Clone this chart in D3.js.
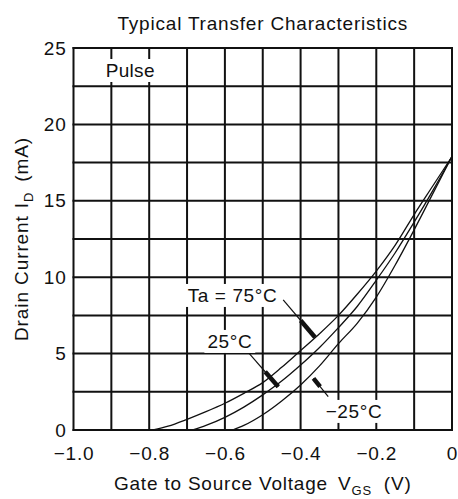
<!DOCTYPE html>
<html>
<head>
<meta charset="utf-8">
<script src="https://cdn.jsdelivr.net/npm/d3@7"></script>
<style>
  body { margin: 0; background: #fff; }
  text { font-family: "Liberation Sans", Arial, sans-serif; fill: #111; }
</style>
</head>
<body>
<div id="plot"></div>
<script>
// Data
// =================================
var vgs75 = [-0.79, -0.75, -0.70, -0.65, -0.60, -0.55, -0.50, -0.45, -0.40, -0.35, -0.30, -0.25, -0.20, -0.15, -0.10, -0.05, 0];
var id75 = [0, 0.25, 0.7, 1.2, 1.75, 2.4, 3.1, 4.1, 5.2, 6.3, 7.5, 8.9, 10.4, 12.1, 14.1, 16.0, 17.9];

var vgs25 = [-0.685, -0.65, -0.60, -0.55, -0.50, -0.45, -0.40, -0.35, -0.30, -0.25, -0.20, -0.15, -0.10, -0.05, 0];
var id25 = [0, 0.3, 0.83, 1.5, 2.3, 3.2, 4.25, 5.4, 6.7, 8.1, 9.8, 11.6, 13.6, 15.7, 17.9];

var vgsM25 = [-0.58, -0.55, -0.50, -0.45, -0.40, -0.35, -0.30, -0.25, -0.20, -0.15, -0.10, -0.05, 0];
var idM25 = [0, 0.3, 1.0, 1.9, 2.95, 4.2, 5.65, 7.0, 8.7, 10.8, 13.1, 15.5, 17.9];

var xTickValues = [-1.0, -0.8, -0.6, -0.4, -0.2, 0];
var xTickLabels = ["\u22121.0", "\u22120.8", "\u22120.6", "\u22120.4", "\u22120.2", "0"];
var yTickValues = [0, 5, 10, 15, 20, 25];
var yTickLabels = ["0", "5", "10", "15", "20", "25"];

var xGrid = [-1.0, -0.9, -0.8, -0.7, -0.6, -0.5, -0.4, -0.3, -0.2, -0.1, 0];
var yGrid = [0, 2.5, 5, 7.5, 10, 12.5, 15, 17.5, 20, 22.5, 25];

// curve labels (data units) and their leader lines
var curveLabels = ["Ta = 75\u00b0C", "25\u00b0C", "\u221225\u00b0C"];
var labelX = [-0.58, -0.587, -0.259];
var labelY = [8.38, 5.37, 0.79];
var leaderFrom = [[-0.446, 8.51], [-0.536, 5.02], [-0.327, 2.18]];
var leaderTo = [[-0.362, 6.07], [-0.459, 2.83], [-0.366, 3.38]];

/* Step 1
 * workspace
 */
// =================================
var svgWidth = 458;
var svgHeight = 499;

var margin = { top: 48, right: 6, bottom: 69, left: 73.5 };
var width = svgWidth - margin.left - margin.right;
var height = svgHeight - margin.top - margin.bottom;

var svg = d3.select("#plot")
    .append("svg")
    .attr("width", svgWidth)
    .attr("height", svgHeight);

var chartGroup = svg.append("g")
    .attr("transform", `translate(${margin.left}, ${margin.top})`);

/* Step 2
 * scales and axes
 */
// =================================
var xScale = d3.scaleLinear().domain([-1, 0]).range([0, width]);
var yScale = d3.scaleLinear().domain([0, 25]).range([height, 0]);

// grid (the outer lines make the frame)
chartGroup.selectAll(".vgrid")
    .data(xGrid)
    .enter()
    .append("line")
    .attr("x1", d => xScale(d))
    .attr("x2", d => xScale(d))
    .attr("y1", yScale(0) + 1)
    .attr("y2", yScale(25) - 1)
    .attr("stroke", "#111")
    .attr("stroke-width", 2);

chartGroup.selectAll(".hgrid")
    .data(yGrid)
    .enter()
    .append("line")
    .attr("x1", xScale(-1) - 1)
    .attr("x2", xScale(0) + 1)
    .attr("y1", d => yScale(d))
    .attr("y2", d => yScale(d))
    .attr("stroke", "#111")
    .attr("stroke-width", 2);

var bottomAxis = d3.axisBottom(xScale)
    .tickValues(xTickValues)
    .tickFormat((d, i) => xTickLabels[i])
    .tickSize(0)
    .tickPadding(17);
var leftAxis = d3.axisLeft(yScale)
    .tickValues(yTickValues)
    .tickFormat((d, i) => yTickLabels[i])
    .tickSize(0)
    .tickPadding(7);

var xAxisG = chartGroup.append("g")
    .attr("transform", `translate(0, ${height})`)
    .call(bottomAxis);
var yAxisG = chartGroup.append("g")
    .call(leftAxis);

[xAxisG, yAxisG].forEach(g => {
    g.select(".domain").remove();
    g.selectAll("text")
        .attr("font-family", null)
        .style("font-size", "19px")
        .style("letter-spacing", "0.8px")
        .attr("fill", "#111");
});

/* Step 3
 * the curves
 */
// =================================
var line = d3.line()
    .x(d => xScale(d[0]))
    .y(d => yScale(d[1]))
    .curve(d3.curveMonotoneX);

var series = [
    d3.zip(vgs75, id75),
    d3.zip(vgs25, id25),
    d3.zip(vgsM25, idM25)
];

chartGroup.selectAll(".curve")
    .data(series)
    .enter()
    .append("path")
    .attr("class", "curve")
    .attr("d", line)
    .attr("fill", "none")
    .attr("stroke", "#111")
    .attr("stroke-width", 1.3);

/* Step 4
 * texts, labels, leaders
 */
// =================================
// white box behind a text so the grid breaks around it
function knockOut(textSel, pad) {
    var b = textSel.node().getBBox();
    chartGroup.insert("rect", function () { return textSel.node(); })
        .attr("x", b.x - pad)
        .attr("y", b.y - pad + 2)
        .attr("width", b.width + pad * 2)
        .attr("height", b.height + pad * 2 - 4)
        .attr("fill", "#fff");
}

var pulse = chartGroup.append("text")
    .attr("x", xScale(-0.85))
    .attr("y", yScale(25) + 29)
    .attr("text-anchor", "middle")
    .style("font-size", "19px")
    .style("letter-spacing", "0.3px")
    .text("Pulse");
knockOut(pulse, 3);

curveLabels.forEach((lab, i) => {
    var x1 = xScale(leaderFrom[i][0]), y1 = yScale(leaderFrom[i][1]);
    var x2 = xScale(leaderTo[i][0]), y2 = yScale(leaderTo[i][1]);
    chartGroup.append("line")
        .attr("x1", x1).attr("y1", y1)
        .attr("x2", x2).attr("y2", y2)
        .attr("stroke", "#111")
        .attr("stroke-width", 1.2);
    // thick arrow part next to the curve
    var t = 0.55;
    chartGroup.append("line")
        .attr("x1", x1 + (x2 - x1) * t).attr("y1", y1 + (y2 - y1) * t)
        .attr("x2", x2).attr("y2", y2)
        .attr("stroke", "#111")
        .attr("stroke-width", 4.5);

    var txt = chartGroup.append("text")
        .attr("x", xScale(labelX[i]))
        .attr("y", yScale(labelY[i]))
        .attr("text-anchor", "middle")
        .style("font-size", "19px")
        .style("letter-spacing", "0.6px")
        .text(lab);
    knockOut(txt, 3);
});

// title
svg.append("text")
    .attr("x", margin.left + width / 2)
    .attr("y", 30)
    .attr("text-anchor", "middle")
    .style("font-size", "19px")
    .style("letter-spacing", "0.8px")
    .text("Typical Transfer Characteristics");

// X axis title
var xTitle = svg.append("text")
    .attr("x", margin.left + width / 2)
    .attr("y", 490)
    .attr("text-anchor", "middle")
    .style("font-size", "19px")
    .style("letter-spacing", "0.8px");
xTitle.append("tspan").text("Gate to Source Voltage");
xTitle.append("tspan").attr("dx", 10).text("V");
xTitle.append("tspan").attr("dy", 5).style("font-size", "13px").text("GS");
xTitle.append("tspan").attr("dy", -5).attr("dx", 12).text("(V)");

// Y axis title
var yTitle = svg.append("text")
    .attr("transform", "rotate(-90)")
    .attr("x", 0 - (margin.top + height / 2))
    .attr("y", 28)
    .attr("text-anchor", "middle")
    .style("font-size", "19px")
    .style("letter-spacing", "0.9px");
yTitle.append("tspan").text("Drain Current");
yTitle.append("tspan").attr("dx", 7).text("I");
yTitle.append("tspan").attr("dy", 5).style("font-size", "13px").text("D");
yTitle.append("tspan").attr("dy", -5).attr("dx", 10).text("(mA)");
</script>
</body>
</html>
